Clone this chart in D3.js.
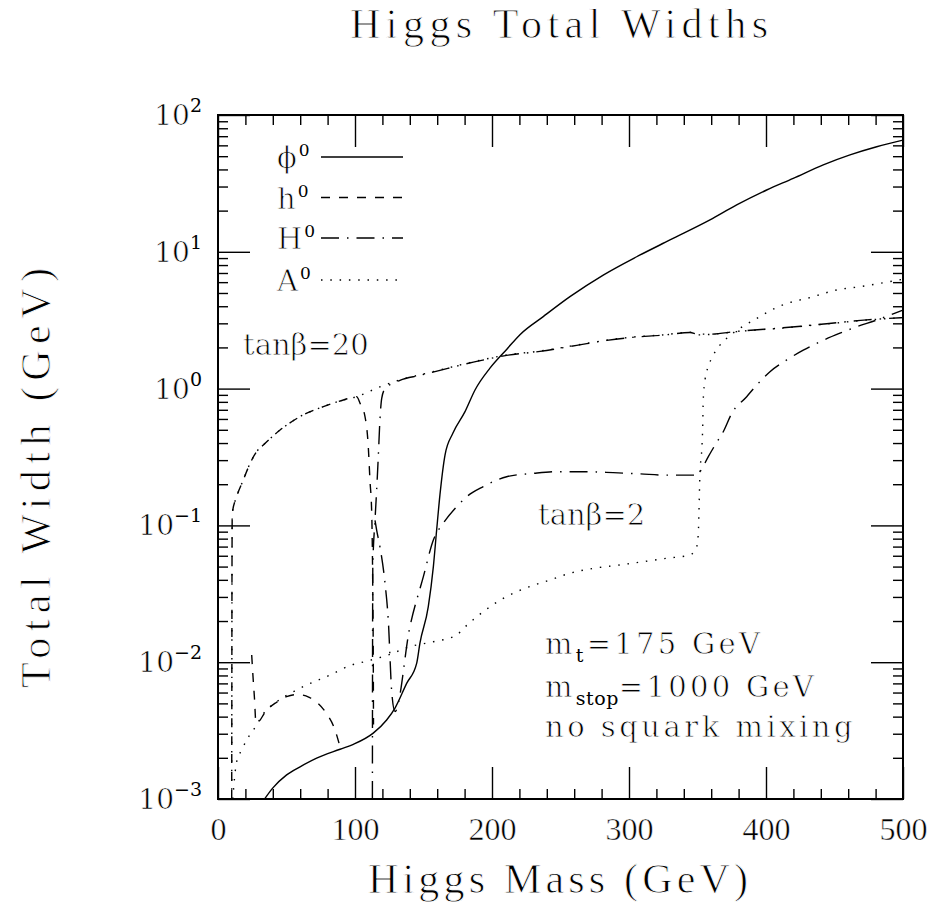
<!DOCTYPE html>
<html>
<head>
<meta charset="utf-8">
<script src="https://cdn.jsdelivr.net/npm/d3@7"></script>
<style>
body { margin: 0; background: #fff; }
svg { display: block; }
</style>
</head>
<body>
<svg id="chart" width="930" height="911"></svg>
<script>
// masses in GeV, total widths in GeV
var smMass  = [34.3, 39.9, 50.1, 59.9, 72.0, 89.1, 98.8, 113.3, 123.1, 129.2, 137.7, 145.0, 147.4, 153.5, 157.2, 159.6, 162.0, 165.7, 171.5, 180.3, 187.6, 198.5, 211.0, 220.4, 237.4, 256.9, 281.2, 305.6, 329.9, 359.1, 378.6, 400.5, 419.9, 441.8, 461.3, 480.8, 500];
var smWidth = [0.00101, 0.00120, 0.00150, 0.00172, 0.00199, 0.00231, 0.00251, 0.00303, 0.00378, 0.00462, 0.0070, 0.0098, 0.0138, 0.0255, 0.050, 0.0925, 0.167, 0.327, 0.473, 0.678, 0.977, 1.41, 1.95, 2.48, 3.36, 4.70, 6.76, 9.20, 12.2, 17.1, 22.0, 28.3, 34.4, 43.2, 51.1, 58.6, 65.5];

// tan beta = 20
var h20Mass  = [10.0, 10.1, 10.2, 10.4, 13.6, 18.5, 23.4, 28.2, 33.1, 45.3, 59.9, 76.9, 91.5, 101.2, 103.6, 107.3, 109.7, 110.9, 112.2, 112.9, 113.4, 113.5];
var h20Width = [0.001, 0.006, 0.04, 0.122, 0.162, 0.215, 0.284, 0.346, 0.387, 0.498, 0.624, 0.738, 0.826, 0.873, 0.785, 0.624, 0.376, 0.215, 0.123, 0.040, 0.0074, 0.0035];

var H20Mass  = [112.7, 112.8, 113.0, 114.6, 115.8, 117.0, 118.2, 119.5, 122.0, 132.8, 147.4, 162.0, 186.4, 210.7, 235.0, 261.8, 283.7, 300.7, 325.0, 344.5, 350.6, 359.1, 378.6, 410.2, 444.3, 473.5, 500];
var H20Width = [0.001, 0.01, 0.05, 0.109, 0.181, 0.318, 0.589, 0.85, 1.0, 1.15, 1.25, 1.36, 1.56, 1.75, 1.87, 2.07, 2.25, 2.36, 2.46, 2.57, 2.50, 2.50, 2.62, 2.77, 2.98, 3.18, 3.3];

var A20Mass  = [10.0, 10.1, 10.2, 10.4, 13.6, 18.5, 23.4, 28.2, 33.1, 45.3, 59.9, 76.9, 91.5, 101.2, 118.2, 132.8, 147.4, 162.0, 186.4, 210.7, 235.0, 261.8, 283.7, 300.7, 325.0, 344.5, 350.6, 359.1, 378.6, 410.2, 444.3, 473.5, 500];
var A20Width = [0.001, 0.006, 0.04, 0.122, 0.162, 0.215, 0.284, 0.346, 0.387, 0.498, 0.624, 0.738, 0.826, 0.873, 1.03, 1.16, 1.26, 1.37, 1.57, 1.76, 1.88, 2.08, 2.26, 2.37, 2.47, 2.58, 2.47, 2.49, 2.61, 2.76, 2.97, 3.17, 3.3];

// tan beta = 2
var h2Mass  = [24.6, 25.5, 26.6, 27.7, 30.0, 34.3, 42.8, 50.0, 57.0, 62.0, 67.0, 72.0, 79.3, 85.4, 89.1];
var h2Width = [0.0113, 0.0080, 0.0055, 0.0036, 0.0037, 0.0043, 0.0051, 0.0056, 0.0058, 0.00575, 0.0055, 0.0051, 0.0042, 0.0032, 0.0024];

var H2Mass  = [114.6, 115.8, 118.2, 121.9, 124.3, 126.8, 129.2, 140.1, 149.9, 157.2, 164.5, 174.2, 181.5, 193.6, 210.7, 230.1, 247.2, 266.6, 288.5, 308.0, 327.5, 349.4, 351.8, 357.9, 362.8, 368.8, 375.0, 385.9, 393.2, 402.9, 415.1, 427.2, 439.4, 454.0, 466.2, 480.8, 490.5, 500];
var H2Width = [0.109, 0.0925, 0.0698, 0.0379, 0.0203, 0.00608, 0.00435, 0.0182, 0.0422, 0.0782, 0.104, 0.137, 0.162, 0.192, 0.227, 0.240, 0.247, 0.247, 0.243, 0.238, 0.233, 0.233, 0.247, 0.318, 0.387, 0.484, 0.659, 0.873, 1.06, 1.33, 1.62, 1.91, 2.20, 2.54, 2.83, 3.17, 3.45, 3.75];

var A2Mass  = [10.8, 12.4, 13.6, 17.3, 20.9, 25.8, 34.3, 42.8, 57.4, 64.7, 81.8, 97.6, 107.3, 124.3, 140.1, 157.2, 174.2, 180.3, 193.6, 208.2, 224.1, 242.3, 256.9, 273.9, 293.4, 310.4, 327.5, 344.5, 349.4, 350.6, 351.1, 351.8, 353.1, 353.8, 354.2, 355.5, 357.9, 361.5, 366.4, 372.5, 381.0, 393.2, 409.0, 434.5, 451.6, 468.6, 485.6, 500];
var A2Width = [0.001, 0.00154, 0.00187, 0.00228, 0.00270, 0.00319, 0.00435, 0.00514, 0.00627, 0.00681, 0.00805, 0.00955, 0.0101, 0.0113, 0.0130, 0.0141, 0.0158, 0.0181, 0.0234, 0.0293, 0.0347, 0.0399, 0.0447, 0.0485, 0.0514, 0.0543, 0.0575, 0.0608, 0.0698, 0.0879, 0.130, 0.242, 0.356, 0.527, 0.826, 1.16, 1.45, 1.76, 2.08, 2.39, 2.76, 3.26, 3.97, 4.70, 5.26, 5.56, 5.94, 6.3];

var majorX = [0, 100, 200, 300, 400, 500];
var minorX = d3.range(20, 500, 20).filter(d => d % 100 != 0);
var decades = [-3, -2, -1, 0, 1, 2];
var majorY = decades.map(e => Math.pow(10, e));
var minorY = [];
decades.slice(0, -1).forEach(e => { for (var k = 2; k < 10; k++) minorY.push(k * Math.pow(10, e)); });

var legendNames = ["\u03d5", "h", "H", "A"];

const svg = d3.select('#chart');
const pLeft = 218, pRight = 903, pTop = 115, pBottom = 799;
const SERIF = '"Liberation Serif", serif';
const ANN = '"DejaVu Serif", serif';

var x = d3.scaleLinear().domain([0, 500]).range([pLeft, pRight]);
var y = d3.scaleLog().domain([1e-3, 1e2]).range([pBottom, pTop]);

const DASH = "9,9";
const DASHDOT = "18,8,1.5,8";
const DOT = "1.5,7.8";

// thin the glyphs a little (the original lettering is light)
function thin(sel, w) {
    return sel.attr('stroke', '#fff').attr('stroke-width', w);
}
// small script text is left as is
function small(sel, size) {
    return sel.style('font-size', size).attr('stroke', 'none');
}

// ticks, all pointing into the frame
function tidy(g) {
    g.select(".domain").remove();
    g.selectAll(".tick line").attr("stroke", "#000").attr("stroke-width", 1.4);
    g.selectAll(".tick text").style("font-family", SERIF).style("font-size", "32px")
        .attr("fill", "#000").call(thin, 0.5);
}
svg.append('g').attr('transform', `translate(0,${pBottom})`)
    .call(d3.axisBottom(x).tickValues(minorX).tickSize(-10).tickFormat("")).call(tidy);
svg.append('g').attr('transform', `translate(0,${pBottom})`)
    .call(d3.axisBottom(x).tickValues(majorX).tickSize(-32).tickPadding(18).tickFormat(d3.format("d"))).call(tidy);
svg.append('g').attr('transform', `translate(0,${pTop})`)
    .call(d3.axisTop(x).tickValues(minorX).tickSize(-10).tickFormat("")).call(tidy);
svg.append('g').attr('transform', `translate(0,${pTop})`)
    .call(d3.axisTop(x).tickValues(majorX).tickSize(-32).tickFormat("")).call(tidy);
svg.append('g').attr('transform', `translate(${pLeft},0)`)
    .call(d3.axisLeft(y).tickValues(minorY).tickSize(-10).tickFormat("")).call(tidy);
svg.append('g').attr('transform', `translate(${pLeft},0)`)
    .call(d3.axisLeft(y).tickValues(majorY).tickSize(-32).tickFormat("")).call(tidy);
svg.append('g').attr('transform', `translate(${pRight},0)`)
    .call(d3.axisRight(y).tickValues(minorY).tickSize(-10).tickFormat("")).call(tidy);
svg.append('g').attr('transform', `translate(${pRight},0)`)
    .call(d3.axisRight(y).tickValues(majorY).tickSize(-32).tickFormat("")).call(tidy);

// y tick labels 10^n
var yl = svg.selectAll('.ylab').data(decades).enter().append('text')
    .attr('class', 'ylab')
    .attr('x', 202)
    .attr('y', d => y(Math.pow(10, d)) + 10)
    .attr('text-anchor', 'end')
    .style('font-family', ANN)
    .style('font-size', '28px')
    .call(thin, 0.6);
yl.append('tspan').text('10');
yl.append('tspan').attr('dy', -13).call(small, '19px')
    .text(d => d < 0 ? '\u2212' + (-d) : '' + d);

// frame
svg.append('rect').attr('x', pLeft).attr('y', pTop)
    .attr('width', pRight - pLeft).attr('height', pBottom - pTop)
    .attr('fill', 'none').attr('stroke', '#000').attr('stroke-width', 2);

// curves
svg.append('clipPath').attr('id', 'clip').append('rect')
    .attr('x', pLeft).attr('y', pTop).attr('width', pRight - pLeft).attr('height', pBottom - pTop);

var line = d3.line()
    .x(d => x(d[0]))
    .y(d => y(d[1]))
    .curve(d3.curveMonotoneX);

var curves = [
    { m: smMass, w: smWidth, dash: null },
    { m: h20Mass, w: h20Width, dash: DASH },
    { m: H20Mass, w: H20Width, dash: DASHDOT },
    { m: A20Mass, w: A20Width, dash: DOT },
    { m: h2Mass, w: h2Width, dash: DASH },
    { m: H2Mass, w: H2Width, dash: DASHDOT },
    { m: A2Mass, w: A2Width, dash: DOT }
];

svg.append('g').attr('clip-path', 'url(#clip)')
    .selectAll('path').data(curves).enter().append('path')
    .attr('d', c => line(c.m.map((m, i) => [m, c.w[i]])))
    .attr('fill', 'none')
    .attr('stroke', '#000')
    .attr('stroke-width', 1.4)
    .attr('stroke-dasharray', c => c.dash);

// legend
var legDash = [null, DASH, DASHDOT, DOT];
var legY = [157, 197.5, 238, 280];
var leg = svg.selectAll('.leg').data(legendNames).enter().append('g').attr('class', 'leg');
leg.append('line')
    .attr('x1', 321).attr('x2', 403)
    .attr('y1', (d, i) => legY[i]).attr('y2', (d, i) => legY[i])
    .attr('stroke', '#000').attr('stroke-width', 1.4)
    .attr('stroke-dasharray', (d, i) => legDash[i]);
var lt = leg.append('text')
    .attr('x', 277).attr('y', (d, i) => legY[i] + 11)
    .style('font-family', ANN).style('font-size', '29px')
    .call(thin, 0.8);
lt.append('tspan').text(d => d);
lt.append('tspan').attr('dx', 2).attr('dy', -12).call(small, '17px').text('0');

// annotations
function ann(xp, yp, ls) {
    return svg.append('text').attr('x', xp).attr('y', yp)
        .style('font-family', ANN).style('font-size', '29px')
        .style('letter-spacing', ls + 'px')
        .call(thin, 0.8);
}
ann(243, 355, 0).text('tan\u03b2=20');
ann(538, 525, 0).text('tan\u03b2=2');

var a1 = ann(545, 654, 3.3);
a1.append('tspan').text('m');
a1.append('tspan').attr('dy', 8).call(small, '19px').text('t');
a1.append('tspan').attr('dy', -8).text('=175 GeV');

var a2 = ann(545, 697, 3.3);
a2.append('tspan').text('m');
a2.append('tspan').attr('dy', 8).call(small, '19px').style('letter-spacing', '0.5px').text('stop');
a2.append('tspan').attr('dy', -8).text('=1000 GeV');

ann(545, 737, 3.5).text('no squark mixing');

// titles
svg.append('text')
    .attr('x', 559).attr('y', 38).attr('text-anchor', 'middle')
    .style('font-family', SERIF).style('font-size', '42px')
    .attr('textLength', 418).attr('lengthAdjust', 'spacing')
    .call(thin, 0.9)
    .text('Higgs Total Widths');

svg.append('text')
    .attr('x', 558).attr('y', 893).attr('text-anchor', 'middle')
    .style('font-family', SERIF).style('font-size', '42px')
    .attr('textLength', 380).attr('lengthAdjust', 'spacing')
    .call(thin, 0.9)
    .text('Higgs Mass (GeV)');

svg.append('text')
    .attr('transform', 'translate(50,478) rotate(-90)')
    .attr('text-anchor', 'middle')
    .style('font-family', SERIF).style('font-size', '42px')
    .attr('textLength', 420).attr('lengthAdjust', 'spacing')
    .call(thin, 0.9)
    .text('Total Width (GeV)');
</script>
</body>
</html>
